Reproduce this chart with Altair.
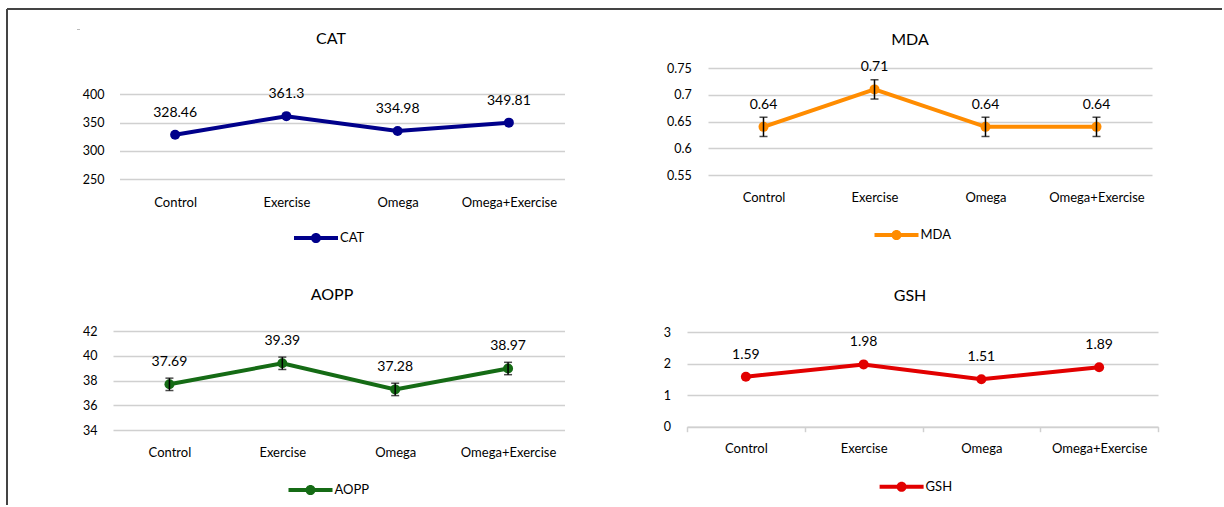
import altair as alt
import pandas as pd

groups = ["Control", "Exercise", "Omega", "Omega+Exercise"]

cat_values = [328.46, 361.3, 334.98, 349.81]
mda_values = [0.64, 0.71, 0.64, 0.64]
mda_errors = [0.018, 0.018, 0.018, 0.018]
aopp_values = [37.69, 39.39, 37.28, 38.97]
aopp_errors = [0.5, 0.5, 0.5, 0.5]
gsh_values = [1.59, 1.98, 1.51, 1.89]

cat_ticks = [250, 300, 350, 400]
mda_ticks = [0.55, 0.6, 0.65, 0.7, 0.75]
aopp_ticks = [34, 36, 38, 40, 42]
gsh_ticks = [0, 1, 2, 3]

FONT = "Lato"
WEIGHT = "normal"
GRID = "#D0D0D0"
LEGEND_PATH = ("M-1,-0.09H1V0.09H-1Z "
               "M0.23,0A0.23,0.23,0,1,1,-0.23,0A0.23,0.23,0,1,1,0.23,0Z")

W = 446


def panel(name, values, errors, ticks, color, height, xrange, yrange,
          ypad, xpad, title_xy, legend_xy, axis_line=False, decorations=None):
    df = pd.DataFrame({"group": groups, "value": values, "series": [name] * 4})
    if errors is not None:
        df["lo"] = [v - e for v, e in zip(values, errors)]
        df["hi"] = [v + e for v, e in zip(values, errors)]
    base = alt.Chart(df)
    xscale = alt.Scale(type="band", range=xrange, paddingInner=0, paddingOuter=0)
    xaxis = alt.Axis(title=None, labelAngle=0, domain=axis_line,
                     ticks=axis_line, tickSize=5 if axis_line else 0,
                     tickBand="extent", labelPadding=xpad,
                     labelFontSize=13, labelFont=FONT, labelFontWeight=WEIGHT,
                     labelColor="#000",
                     domainColor=GRID, tickColor=GRID, domainWidth=1.5,
                     tickWidth=1.5, grid=False)
    yscale = alt.Scale(domain=[ticks[0], ticks[-1]], range=yrange, zero=False, nice=False)
    yaxis = alt.Axis(title=None, values=ticks, format="~r", grid=True,
                     gridColor=GRID, gridWidth=1.5, domain=False,
                     ticks=False, tickSize=0, labelPadding=ypad,
                     labelFontSize=12.5, labelFont=FONT, labelFontWeight=WEIGHT,
                     labelColor="#000")
    x = alt.X("group:N", sort=groups, scale=xscale, axis=xaxis, title=None)

    def Y(field):
        return alt.Y(field, scale=yscale, axis=yaxis, title=None)

    line = base.mark_line(color=color, strokeWidth=4).encode(x=x, y=Y("value:Q"))
    pts = base.mark_point(filled=True, size=100, opacity=1).encode(
        x=x, y=Y("value:Q"),
        color=alt.Color("series:N", scale=alt.Scale(domain=[name], range=[color]),
                        legend=alt.Legend(title=None, orient="none",
                                          legendX=legend_xy[0], legendY=legend_xy[1],
                                          symbolType=LEGEND_PATH, symbolSize=1936,
                                          symbolStrokeWidth=0, symbolOpacity=1,
                                          labelFontSize=13, labelFont=FONT,
                                          labelFontWeight=WEIGHT,
                                          labelColor="#000", labelOffset=2,
                                          padding=0)))
    layers = [line, pts]
    if errors is not None:
        layers.append(base.mark_rule(color="#000", strokeWidth=1.5).encode(
            x=x, y=Y("lo:Q"), y2="hi:Q"))
        layers.append(base.mark_tick(color="#000", size=8, thickness=1.5).encode(
            x=x, y=Y("lo:Q")))
        layers.append(base.mark_tick(color="#000", size=8, thickness=1.5).encode(
            x=x, y=Y("hi:Q")))
    layers.append(base.mark_text(dy=-22, fontSize=14, font=FONT, color="#000",
                                 fontWeight=WEIGHT, baseline="middle").encode(
        x=x, y=Y("value:Q"), text=alt.Text("value:Q", format="~g")))
    one = alt.Data(values=[{}])
    layers.append(alt.Chart(one).mark_text(text=name, fontSize=16, font=FONT,
                                           fontWeight=WEIGHT,
                                           color="#000", align="center",
                                           baseline="middle").encode(
        x=alt.value(title_xy[0]), y=alt.value(title_xy[1])))
    if decorations:
        layers.extend(decorations)
    return alt.layer(*layers).properties(width=W, height=height)


one = alt.Data(values=[{}])
frame = [
    alt.Chart(one).mark_rule(color="#444", strokeWidth=2).encode(
        x=alt.value(-112), x2=alt.value(1103), y=alt.value(-59), y2=alt.value(-59)),
    alt.Chart(one).mark_rule(color="#444", strokeWidth=2).encode(
        x=alt.value(-112), x2=alt.value(-112), y=alt.value(-59), y2=alt.value(437)),
    alt.Chart(one).mark_rule(color="#BBBBBB", strokeWidth=1).encode(
        x=alt.value(-42), x2=alt.value(-39), y=alt.value(-38.5), y2=alt.value(-38.5)),
]

cat = panel("CAT", cat_values, None, cat_ticks, "#00008B", 111,
            [0.5, 445.5], [111, 26.3], 15, 17, (212, -28.7), (175, 148),
            decorations=frame)
mda = panel("MDA", mda_values, mda_errors, mda_ticks, "#FF8C00", 107,
            [0, 444], [107, 0], 16.7, 16, (202, -28), (166.5, 145))
aopp = panel("AOPP", aopp_values, aopp_errors, aopp_ticks, "#156B15", 99,
             [-6, 445.5], [99, 0], 22, 16.5, (213, -36), (169.5, 137))
gsh = panel("GSH", gsh_values, None, gsh_ticks, "#E20000", 95.7,
            [-21, 450], [95.7, 1.3], 37.4, 11, (202, -35), (171.6, 133.7),
            axis_line=True)

chart = alt.concat(cat, mda, aopp, gsh, columns=2,
                   spacing={"row": 152, "column": 143},
                   bounds="flush", align="all").resolve_scale(
    x="independent", y="independent", color="independent"
).properties(
    padding={"left": 6, "top": 8, "right": 0, "bottom": 0},
    background="white",
).configure_view(strokeWidth=0)

chart.save("out.html", embed_options={"renderer": "svg", "actions": False})
